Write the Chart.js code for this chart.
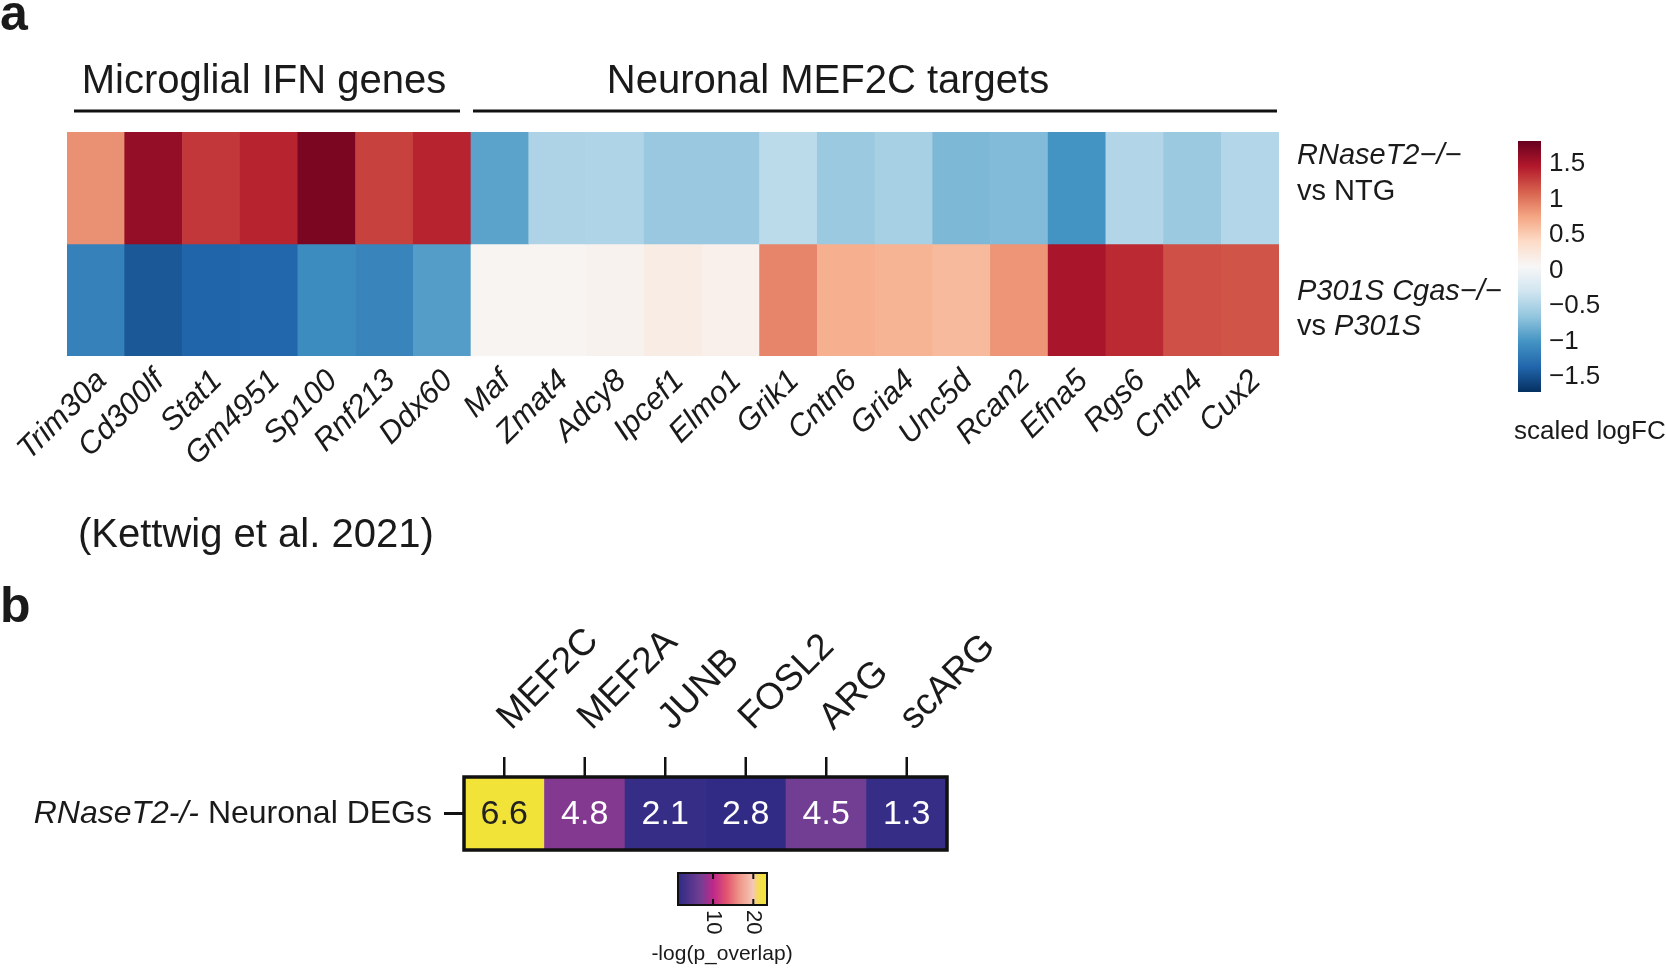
<!DOCTYPE html>
<html>
<head>
<meta charset="utf-8">
<script src="https://cdn.jsdelivr.net/npm/chart.js@4"></script>
<style>
    html, body { margin: 0; padding: 0; background: #fff; }
    #wrap { position: relative; width: 1666px; height: 968px; overflow: hidden; }
    #wrap canvas { position: absolute; left: 0; top: 0; }
</style>
</head>
<body>
<div id="wrap">
    <canvas id="heat-a" width="1666" height="968"></canvas>
    <canvas id="heat-b" width="1666" height="968"></canvas>
</div>
<script>
// --- Данные: панель a ---
const genes = ['Trim30a', 'Cd300lf', 'Stat1', 'Gm4951', 'Sp100', 'Rnf213', 'Ddx60',
    'Maf', 'Zmat4', 'Adcy8', 'Ipcef1', 'Elmo1', 'Grik1', 'Cntn6', 'Gria4', 'Unc5d',
    'Rcan2', 'Efna5', 'Rgs6', 'Cntn4', 'Cux2'];
const geneGroups = ['Microglial IFN genes', 'Neuronal MEF2C targets'];
const groupSizes = [7, 14];
const rnaseVsNtg = [0.81, 1.56, 1.26, 1.36, 1.68, 1.21, 1.36,
    -0.95, -0.55, -0.54, -0.67, -0.67, -0.47, -0.66, -0.59, -0.80,
    -0.78, -1.06, -0.53, -0.66, -0.52];
const cgasVsP301s = [-1.20, -1.51, -1.43, -1.41, -1.12, -1.18, -0.99,
    0.04, 0.04, 0.06, 0.14, 0.09, 0.87, 0.64, 0.61, 0.57,
    0.79, 1.46, 1.33, 1.14, 1.12];
const logfcTicks = [1.5, 1, 0.5, 0, -0.5, -1, -1.5];
const logfcRange = [-1.77, 1.77];

// --- Данные: панель b ---
const tfSets = ['MEF2C', 'MEF2A', 'JUNB', 'FOSL2', 'ARG', 'scARG'];
const overlapLabels = ['6.6', '4.8', '2.1', '2.8', '4.5', '1.3'];
const overlapScore = [23.0, 7.6, 2.0, 1.7, 6.8, 2.0];
const overlapTicks = [10, 20];
const overlapRange = [1.3, 23.4];

const FONT = '"Liberation Sans", Arial, Helvetica, sans-serif';
const W = 1666, H = 968;

// --- Цвета ---
const RDBU = ['#053061', '#2166ac', '#4393c3', '#92c5de', '#d1e5f0', '#f7f7f7',
    '#fddbc7', '#f4a582', '#d6604d', '#b2182b', '#67001f'];
const OVERLAP_STOPS = [[0, '#2d2a84'], [0.25, '#723e93'], [0.4, '#c0288a'], [0.55, '#e2566f'],
    [0.7, '#ef9a8a'], [0.84, '#f5c6b6'], [0.9, '#f4dc5a'], [1, '#f2e531']];

function hexToRgb(hex) {
    const n = parseInt(hex.slice(1), 16);
    return [(n >> 16) & 255, (n >> 8) & 255, n & 255];
}

function ramp(stops, t) {
    t = Math.max(0, Math.min(1, t));
    for (let i = 1; i < stops.length; i++) {
        if (t <= stops[i][0]) {
            const [p0, c0] = stops[i - 1];
            const [p1, c1] = stops[i];
            const f = (t - p0) / (p1 - p0);
            const a = hexToRgb(c0), b = hexToRgb(c1);
            const c = a.map((v, k) => Math.round(v + (b[k] - v) * f));
            return `rgb(${c[0]},${c[1]},${c[2]})`;
        }
    }
    return stops[stops.length - 1][1];
}

const rdbuStops = RDBU.map((c, i) => [i / (RDBU.length - 1), c]);
const logfcColor = v => ramp(rdbuStops, (v - logfcRange[0]) / (logfcRange[1] - logfcRange[0]));
const overlapColor = v => ramp(OVERLAP_STOPS, (v - overlapRange[0]) / (overlapRange[1] - overlapRange[0]));

// --- Вспомогательные функции для текста ---
function text(ctx, str, x, y, opts = {}) {
    ctx.save();
    ctx.font = `${opts.style || 'normal'} ${opts.weight || 'normal'} ${opts.size || 20}px ${FONT}`;
    ctx.fillStyle = opts.color || '#1a1a1a';
    ctx.textAlign = opts.align || 'left';
    ctx.textBaseline = opts.baseline || 'alphabetic';
    ctx.translate(x, y);
    if (opts.rotate) ctx.rotate(opts.rotate);
    ctx.fillText(str, 0, 0);
    ctx.restore();
}

function measure(ctx, str, size, style) {
    ctx.save();
    ctx.font = `${style || 'normal'} normal ${size}px ${FONT}`;
    const w = ctx.measureText(str).width;
    ctx.restore();
    return w;
}

// --- Плагин: подписи панели a ---
const panelAPlugin = {
    id: 'panelA',
    afterDraw(chart) {
        const ctx = chart.ctx;
        const xs = chart.scales.x;
        const area = chart.chartArea;
        const colW = xs.getPixelForValue(1) - xs.getPixelForValue(0);

        text(ctx, 'a', 0, 30, { size: 50, weight: 'bold' });

        // группы генов
        const titleX = [264, 828];
        const insets = [[7, 11], [2, 2]];
        let start = 0;
        groupSizes.forEach((n, g) => {
            const left = xs.getPixelForValue(start) - colW / 2 + insets[g][0];
            const right = xs.getPixelForValue(start + n - 1) + colW / 2 - insets[g][1];
            ctx.save();
            ctx.strokeStyle = '#111';
            ctx.lineWidth = 3;
            ctx.beginPath();
            ctx.moveTo(left, 111);
            ctx.lineTo(right, 111);
            ctx.stroke();
            ctx.restore();
            text(ctx, geneGroups[g], titleX[g], 93, { size: 40, align: 'center' });
            start += n;
        });

        // подписи генов
        genes.forEach((g, i) => {
            const cx = xs.getPixelForValue(i);
            text(ctx, g, cx + 6, area.bottom + 20, {
                size: 31, style: 'italic', align: 'right', baseline: 'middle', rotate: -Math.PI / 4
            });
        });

        // подписи строк
        const lx = area.right + 18;
        text(ctx, 'RNaseT2\u2212/\u2212', lx, 156, { size: 29, style: 'italic', baseline: 'middle' });
        text(ctx, 'vs NTG', lx, 192, { size: 29, baseline: 'middle' });
        text(ctx, 'P301S Cgas\u2212/\u2212', lx, 292, { size: 29, style: 'italic', baseline: 'middle' });
        text(ctx, 'vs ', lx, 327, { size: 29, baseline: 'middle' });
        text(ctx, 'P301S', lx + measure(ctx, 'vs ', 29), 327, { size: 29, style: 'italic', baseline: 'middle' });

        // цветовая шкала
        const cb = { x: 1518, y: 141, w: 23, h: 251 };
        const grad = ctx.createLinearGradient(0, cb.y + cb.h, 0, cb.y);
        RDBU.forEach((c, i) => grad.addColorStop(i / (RDBU.length - 1), c));
        ctx.fillStyle = grad;
        ctx.fillRect(cb.x, cb.y, cb.w, cb.h);
        logfcTicks.forEach(v => {
            const y = cb.y + (logfcRange[1] - v) / (logfcRange[1] - logfcRange[0]) * cb.h;
            const label = v < 0 ? '\u2212' + Math.abs(v) : String(v);
            text(ctx, label, cb.x + cb.w + 8, y + 4, { size: 26, baseline: 'middle' });
        });
        text(ctx, 'scaled logFC', 1514, 439, { size: 26 });

        text(ctx, '(Kettwig et al. 2021)', 78, 547, { size: 40 });
    }
};

// --- Плагин: подписи панели b ---
const panelBPlugin = {
    id: 'panelB',
    afterDraw(chart) {
        const ctx = chart.ctx;
        const xs = chart.scales.x;
        const area = chart.chartArea;
        const midY = (area.top + area.bottom) / 2;

        text(ctx, 'b', 0, 622, { size: 50, weight: 'bold' });

        // рамка
        ctx.save();
        ctx.strokeStyle = '#111';
        ctx.lineWidth = 3.5;
        ctx.strokeRect(area.left, area.top, area.right - area.left, area.bottom - area.top);
        ctx.restore();

        tfSets.forEach((name, i) => {
            const cx = xs.getPixelForValue(i);
            ctx.save();
            ctx.strokeStyle = '#111';
            ctx.lineWidth = 2.5;
            ctx.beginPath();
            ctx.moveTo(cx, area.top - 20);
            ctx.lineTo(cx, area.top);
            ctx.stroke();
            ctx.restore();
            text(ctx, name, cx + 7, area.top - 46, { size: 37, rotate: -Math.PI / 4 });
            text(ctx, overlapLabels[i], cx, midY + 1, {
                size: 34, align: 'center', baseline: 'middle',
                color: overlapScore[i] > 15 ? '#222' : '#fff'
            });
        });

        // подпись строки
        ctx.save();
        ctx.strokeStyle = '#111';
        ctx.lineWidth = 3;
        ctx.beginPath();
        ctx.moveTo(area.left - 20, midY);
        ctx.lineTo(area.left, midY);
        ctx.stroke();
        ctx.restore();
        const rowRight = area.left - 32;
        const plain = ' Neuronal DEGs';
        text(ctx, plain, rowRight, midY + 1, { size: 32, align: 'right', baseline: 'middle' });
        text(ctx, 'RNaseT2-/-', rowRight - measure(ctx, plain, 32), midY + 1,
            { size: 32, style: 'italic', align: 'right', baseline: 'middle' });

        // цветовая шкала
        const cb = { x: 678, y: 873, w: 89, h: 32 };
        const grad = ctx.createLinearGradient(cb.x, 0, cb.x + cb.w, 0);
        OVERLAP_STOPS.forEach(([p, c]) => grad.addColorStop(p, c));
        ctx.fillStyle = grad;
        ctx.fillRect(cb.x, cb.y, cb.w, cb.h);
        ctx.save();
        ctx.strokeStyle = '#111';
        ctx.lineWidth = 2;
        ctx.strokeRect(cb.x, cb.y, cb.w, cb.h);
        overlapTicks.forEach(v => {
            const tx = cb.x + (v - overlapRange[0]) / (overlapRange[1] - overlapRange[0]) * cb.w;
            ctx.beginPath();
            ctx.moveTo(tx, cb.y);
            ctx.lineTo(tx, cb.y + 6);
            ctx.moveTo(tx, cb.y + cb.h - 6);
            ctx.lineTo(tx, cb.y + cb.h);
            ctx.stroke();
            text(ctx, String(v), tx, cb.y + cb.h + 5, { size: 22, baseline: 'middle', rotate: Math.PI / 2 });
        });
        ctx.restore();
        text(ctx, '-log(p_overlap)', 722, 960, { size: 21, align: 'center' });
    }
};

const baseOptions = padding => ({
    responsive: false,
    animation: false,
    devicePixelRatio: 1,
    layout: { padding },
    datasets: { bar: { grouped: false, barPercentage: 1, categoryPercentage: 1, borderWidth: 0 } },
    plugins: { legend: { display: false }, tooltip: { enabled: false } },
});

// --- Панель a: тепловая карта logFC ---
const optsA = baseOptions({ left: 67, top: 132, right: W - 1279, bottom: H - 356 });
optsA.scales = { x: { display: false }, y: { display: false, min: 0, max: 2 } };
new Chart(document.getElementById('heat-a'), {
    type: 'bar',
    data: {
        labels: genes,
        datasets: [
            { label: 'RNaseT2-/- vs NTG', data: genes.map(() => [1, 2]), backgroundColor: rnaseVsNtg.map(logfcColor) },
            { label: 'P301S Cgas-/- vs P301S', data: genes.map(() => [0, 1]), backgroundColor: cgasVsP301s.map(logfcColor) },
        ],
    },
    options: optsA,
    plugins: [panelAPlugin],
});

// --- Панель b: перекрытие с наборами генов ---
const optsB = baseOptions({ left: 464, top: 777, right: W - 947, bottom: H - 850 });
optsB.scales = { x: { display: false }, y: { display: false, min: 0, max: 1 } };
new Chart(document.getElementById('heat-b'), {
    type: 'bar',
    data: {
        labels: tfSets,
        datasets: [
            { label: 'RNaseT2-/- Neuronal DEGs', data: tfSets.map(() => [0, 1]), backgroundColor: overlapScore.map(overlapColor) },
        ],
    },
    options: optsB,
    plugins: [panelBPlugin],
});
</script>
</body>
</html>
